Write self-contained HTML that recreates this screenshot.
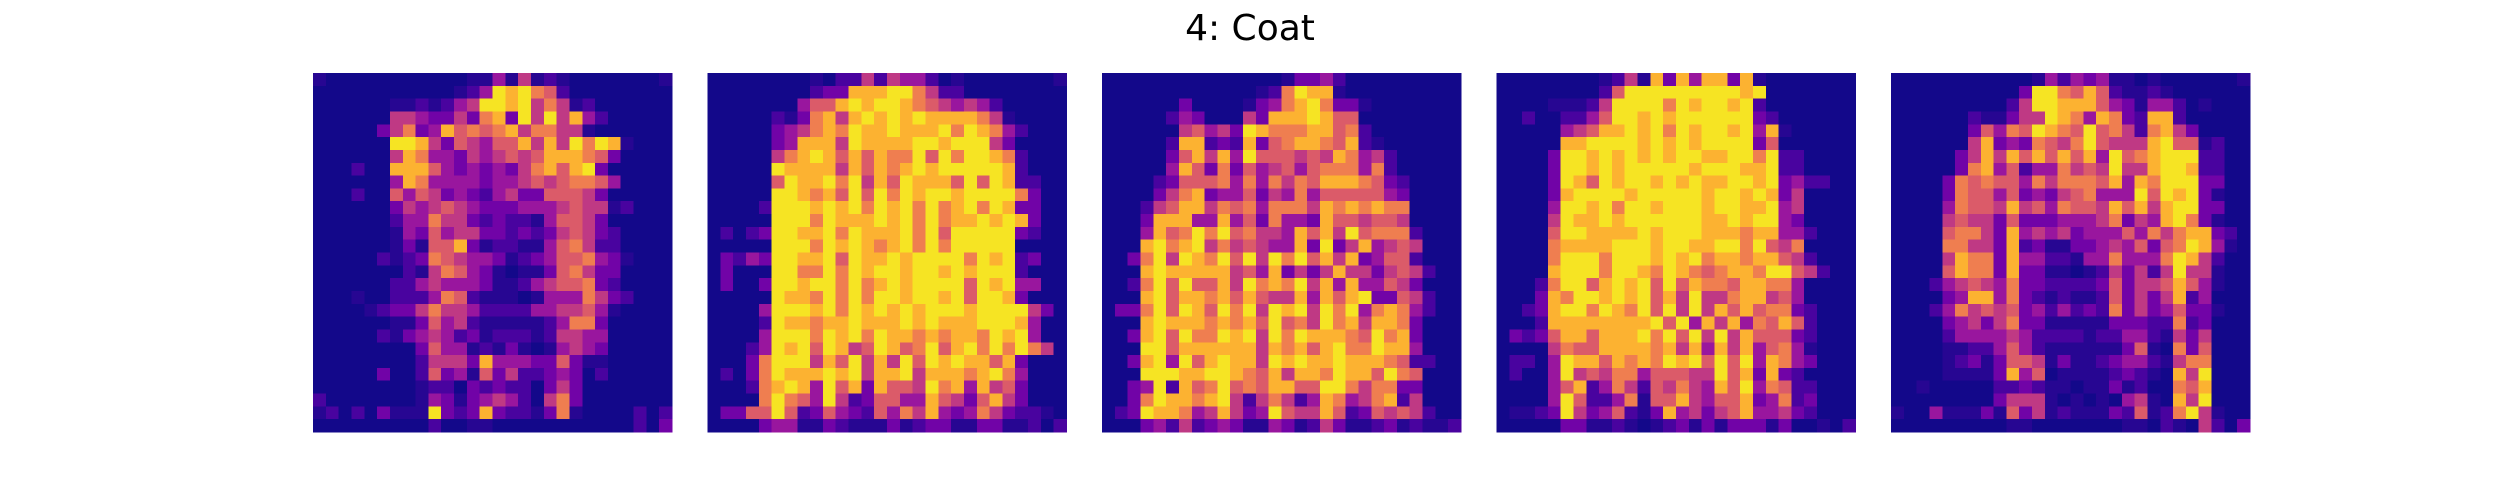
<!DOCTYPE html>
<html><head><meta charset="utf-8">
<style>html,body{margin:0;padding:0;background:#fff;width:2500px;height:500px;overflow:hidden}</style>
</head><body>
<svg id="fig" width="2500" height="500" xmlns="http://www.w3.org/2000/svg">
<rect width="2500" height="500" fill="#fff"/>
<text x="1250" y="40" text-anchor="middle" font-family="DejaVu Sans, Liberation Sans, sans-serif" font-size="36" fill="#000">4: Coat</text>
</svg>
<script>
const panel1 = ["1000000000001141512100000001","0000000000012498976200000000","0000001121245998957512000000","0000005543353783959584200000","0000035734867678577551000000","0000009985365466858597981000","0000005874435456568887630000","0002008886434343578689300000","0000004874444344565677640000","0002006465343245336665300000","0000003545654333444565512000","0000002447553232214665300000","0000001436455332323565320000","0000001316683122114675220000","0000021237654431234667431000","0000000215764310113675330000","0000002245444311245667320000","0001002224762111014447532000","0000123357554222244556410000","0000001136452111112477300000","0000021345423122212554400000","0000000036441213101454300000","0000000025553844433631100000","0000030026341635223430200000","0000000012203232203530000000","2000000014313454205730000000","1202031119323832213710000202","0000000002001100000000000203"];
const panel2 = ["0000000010225254420100000001","0000000023388899752200000000","0000000466898998765454200000","0000021378589898988887510000","0000034578798898889798742000","0000034888598888998999530000","0000057898686877969799872000","0000098888586878989999982000","0000069889795869888696982200","0000099878696979899899997300","0000299989897989797897983300","0000099979888989797889898300","0202399889798889796999993200","0000099979898789797999990000","0324399889698898999979892300","0300099779798998998989992000","0300399899797898999969894400","0000098879797998998969983000","0000499989798989899989999530","0000298878898889898889998400","0000499979897988787887989400","0002498969856986796897979750","0003799958695859698988683000","0203798889895889588878974000","0002789849683866597848563000","0000797649523664486536853000","0336696236432647584347532210","0000344113211131233113311202"];
const panel3 = ["0000000000000013342000000000","0000000000001279881000000000","0000003000013478973310000000","0000024300053888986600000000","0000005645398777886720000000","0000028823283678876821000000","0000036858496665658745200000","0000048637364564677747200000","0000236667474757688876320000","0000357834463547466666430000","0002568857674777587878770000","0003888448463744386656650000","0004867979675548685967772000","0008978957565448393584565000","0037959879695979685834662000","0008988888564835358553565200","0027969668597879584844653000","0008968878686558486893365200","0337969869795989597947874200","0008988878786967597858873000","0038969779895979888769783000","0009968888885878689779884000","0038949689885989889888762200","0009998899876858879886976000","0034928679676886699757733000","0037988789525752487457825000","0239887458534965586236565200","0003425234311431253112312112"];
const panel4 = ["0000000012518384883810000000","0000000026999999999890000000","0000111259999798998920000000","0020022469989899999932000000","0000045688989798998948100000","0000088999989898999936000000","0000399898989899889979220000","0000399898999998999889220000","0000398698998989889989342200","0000389999899999899898350000","0000499897998999899889450000","0000598898999999889899430000","0000699888898999888788442000","0000788889998998899796570000","0000799979998989788788652000","0000899979987987678879965200","0002799689896968776887740000","0003879989896859557885640000","0023899798796959586867732000","0002888888889694858476862000","0323688688897969595866632000","0000576688887858485846741000","0220498868787989696948743000","0200495657746665596838320000","0000468247526575486947622000","0000496224716685466834723000","0112395346213845356844532000","0000033112101231313331300102"];
const panel5 = ["0000000000014243411010000001","0000000000399768621121000000","0000000002599888643144201000","0000002113559874873288200000","0000003647698769675278530000","0000005834376579655589661200","0000035858686868496789992200","0000037846244756595589982200","0000376766475777684879993300","0000376646343567444969893100","0000476658564766586858993300","0000565536333444573548973100","0000677538454534446475788320","0000775538231133454636798410","0000587738442214474447985200","0000687738331101253525955100","0002456547332222363556864100","0000348847321211263535824000","0002475656342423273534633100","0000345357331111133322723000","0000244445422221224421535000","0000112246421111113610736000","0000123136651311234421577000","0000111138460111123210859000","0010000022321101131200768000","0000000035551010104510859000","1004111316351211132612795100","0000000001100000001102105203"];
const panels = [panel1, panel2, panel3, panel4, panel5];
const levels = [0.012,0.05,0.12,0.22,0.33,0.45,0.57,0.68,0.83,0.95];

const stops = ["#0d0887","#41049d","#6a00a8","#8f0da4","#b12a90","#cc4778","#e16462","#f2844b","#fca636","#fcce25","#f0f921"];
function hex(h){return [1,3,5].map(i=>parseInt(h.substr(i,2),16));}
function plasma(v){
  v=Math.max(0,Math.min(1,v));const p=v*10,i=Math.min(9,Math.floor(p)),f=p-i;
  const a=hex(stops[i]),b=hex(stops[i+1]);
  return "rgb("+a.map((x,k)=>Math.round(x+(b[k]-x)*f)).join(",")+")";
}
const svg=document.getElementById('fig');
const NS="http://www.w3.org/2000/svg";
const left0=313, step=394.5, top0=73, size=359, N=28;
function xPanel(p){return left0+p*step;}
function cellPos(i){return i*size/N;}
panels.forEach((rows,p)=>{
  const g=document.createElementNS(NS,'g');
  
  
  g.setAttribute('shape-rendering','crispEdges');
  svg.appendChild(g);
  for(let r=0;r<N;r++){
    const row=(rows[r]||"").padEnd(N,'0');
    for(let c=0;c<N;c++){
      const d=parseInt(row[c])||0;
      const rect=document.createElementNS(NS,'rect');
      const x0=xPanel(p)+cellPos(c), x1=xPanel(p)+cellPos(c+1);
      const y0=top0+cellPos(r), y1=top0+cellPos(r+1);
      rect.setAttribute('x',x0.toFixed(2));rect.setAttribute('y',y0.toFixed(2));
      rect.setAttribute('width',(x1-x0+0.5).toFixed(2));rect.setAttribute('height',(y1-y0+0.5).toFixed(2));
      rect.setAttribute('fill',plasma(levels[d]));
      
      
      g.appendChild(rect);
    }
  }
});
</script>
</body></html>
